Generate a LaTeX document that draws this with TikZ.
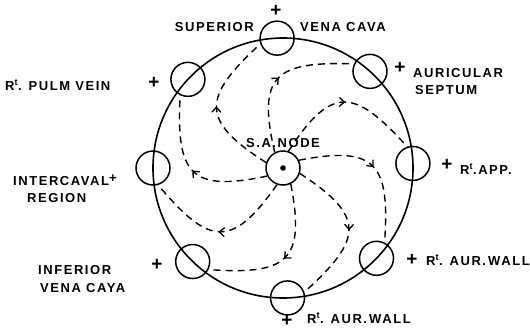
\documentclass[tikz,border=0pt]{standalone}
\usepackage{fontspec}
\setmainfont{Liberation Sans}[LetterSpace=12]
\usetikzlibrary{arrows.meta,decorations.markings}

\tikzset{
  port/.style={circle, draw, line width=1.5pt, minimum size=34pt, inner sep=0pt},
  lbl/.style={inner sep=0pt, font=\fontsize{13}{15}\selectfont\bfseries},
  sign/.style={inner sep=0pt, font=\fontsize{19}{19}\selectfont\bfseries},
  wave/.style={line width=1.4pt, dash pattern=on 7pt off 5pt,
    postaction={decorate, decoration={markings,
      mark=at position 0.5 with {\arrow{Straight Barb[length=5pt,width=9pt,line width=1.3pt]}}}}},
}

\begin{document}
\begin{tikzpicture}[x=1pt, y=1pt]
\useasboundingbox (-283,-165) rectangle (247,168);

% wall of the right auricle
\draw[line width=1.6pt] (0,0) circle (130);

% the eight leads round the wall
\foreach \n/\a in {svc/92.6, pv/137, sep/48, icr/180, app/2, ivc/226, bot/272, wall/316}{
  \node[port] (\n) at (\a:130) {};
}

% sinus node in the middle
\node[port] (sa) at (0,0) {};
\fill (sa.center) circle (2.8);
\node[lbl] (salbl) at (0,25) {S.A.NODE};

% spread of the wave from the node out to each lead
\foreach \n/\a in {svc/92.6, pv/137, sep/48, icr/180, app/2, ivc/226, bot/272, wall/316}{
  \pgfmathsetmacro{\tst}{\a+70}
  \pgfmathsetmacro{\tout}{\a+55}
  \pgfmathsetmacro{\tin}{\a+130}
  \pgfmathsetmacro{\tend}{\a+107}
  \draw[wave] (sa.\tst) to[out=\tout, in=\tin, looseness=1.7] (\n.\tend);
}

% labels
\node[sign] (svcp) at (-7,157) {+};
\node[lbl, anchor=east] (svcl) at (-29,141) {SUPERIOR};
\node[lbl, anchor=west] (svcr) at (17,141) {VENA CAVA};

\node[sign] (pvp) at (-129,85) {+};
\node[lbl, anchor=west] (pvl) at (-278,83) {R\textsuperscript{t}. PULM VEIN};

\node[sign] (sepp) at (117,100) {+};
\node[lbl, anchor=west] (sepl) at (130,95) {AURICULAR};
\node[lbl, anchor=west] (sepl2) at (132,78) {SEPTUM};

\node[lbl, anchor=west] (icrl) at (-270,-12) {INTERCAVAL\raisebox{3pt}{+}};
\node[lbl, anchor=west] (icrl2) at (-256,-30) {REGION};

\node[sign] (appp) at (164,3) {+};
\node[lbl, anchor=west] (appl) at (177,-1) {R\textsuperscript{t}.APP.};

\node[sign] (ivcp) at (-126,-97) {+};
\node[lbl, anchor=west] (ivcl) at (-245,-102) {INFERIOR};
\node[lbl, anchor=west] (ivcl2) at (-243,-120) {VENA CAYA};

\node[sign] (wallp) at (129,-92) {+};
\node[lbl, anchor=west] (walll) at (143,-92) {R\textsuperscript{t}. AUR.\,WALL};

\node[sign] (botp) at (4,-153) {+};
\node[lbl, anchor=west] (botl) at (24,-150) {R\textsuperscript{t}. AUR.\,WALL};

\end{tikzpicture}
\end{document}
